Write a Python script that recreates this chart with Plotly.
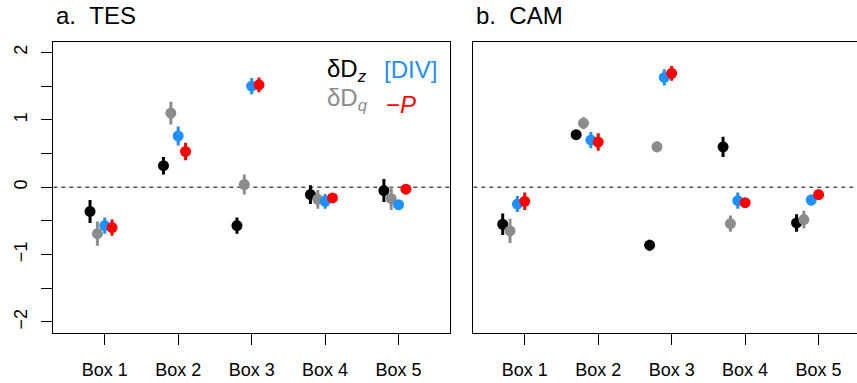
import plotly.graph_objects as go

# ---------------- data ----------------
boxes = ["Box 1", "Box 2", "Box 3", "Box 4", "Box 5"]
box_pos = [1, 2, 3, 4, 5]
y_ticks = [-2, -1, 0, 1, 2]
y_ticktext = ["\u22122", "\u22121", "0", "1", "2"]

# panel a: TES
tes_dDz = [-0.36, 0.32, -0.57, -0.11, -0.05]
tes_dDz_err = [0.17, 0.13, 0.12, 0.14, 0.17]
tes_dDq = [-0.69, 1.10, 0.04, -0.18, -0.17]
tes_dDq_err = [0.18, 0.17, 0.15, 0.14, 0.17]
tes_div = [-0.57, 0.76, 1.50, -0.21, -0.26]
tes_div_err = [0.12, 0.14, 0.12, 0.11, 0.03]
tes_negP = [-0.60, 0.53, 1.52, -0.16, -0.03]
tes_negP_err = [0.12, 0.13, 0.11, 0.05, 0.03]

# panel b: CAM
cam_dDz = [-0.55, 0.78, -0.86, 0.60, -0.53]
cam_dDz_err = [0.16, 0.06, 0.08, 0.15, 0.13]
cam_dDq = [-0.65, 0.95, 0.60, -0.54, -0.48]
cam_dDq_err = [0.18, 0.09, 0.08, 0.12, 0.13]
cam_div = [-0.25, 0.70, 1.63, -0.20, -0.19]
cam_div_err = [0.12, 0.12, 0.12, 0.12, 0.08]
cam_negP = [-0.21, 0.67, 1.69, -0.23, -0.11]
cam_negP_err = [0.13, 0.13, 0.11, 0.07, 0.07]

series_names = ["\u03b4Dz", "\u03b4Dq", "[DIV]", "\u2212P"]
colors = ["#000000", "#8C8C8C", "#1E90FF", "#FF0000"]

# ---------------- layout geometry ----------------
W, H = 857, 383
FONT = "Liberation Sans, Arial, Helvetica, sans-serif"
ax_left_a, ax_right_a = 53.3, 450.0
ax_left_b = 473.3
top_px, bot_px = 41.7, 332.7
xr = [0.3, 5.7]
px_per_unit = (ax_right_a - ax_left_a) / (xr[1] - xr[0])
xr_b = [0.3, 0.3 + (W - ax_left_b) / px_per_unit]
yr = [-2.16, 2.16]

fig = go.Figure()

panels = [
    ("x", "y", [tes_dDz, tes_dDq, tes_div, tes_negP],
     [tes_dDz_err, tes_dDq_err, tes_div_err, tes_negP_err], [-0.2, -0.1, 0.0, 0.1]),
    ("x2", "y2", [cam_dDz, cam_dDq, cam_div, cam_negP],
     [cam_dDz_err, cam_dDq_err, cam_div_err, cam_negP_err], [-0.3, -0.2, -0.1, 0.0]),
]
for xa, ya, vals, errs, offs in panels:
    for name, v, e, off, c in zip(series_names, vals, errs, offs, colors):
        fig.add_trace(go.Scatter(
            x=[p + off for p in box_pos], y=v, mode="markers", name=name,
            xaxis=xa, yaxis=ya, showlegend=False,
            marker=dict(size=11, color=c, line=dict(width=0)),
            error_y=dict(type="data", array=e, visible=True, thickness=3,
                         width=0, color=c),
        ))

# dashed zero lines
fig.add_shape(type="line", xref="x", yref="y", x0=xr[0], x1=xr[1], y0=0, y1=0,
              line=dict(color="black", width=1, dash="4px,4px"), layer="below")
fig.add_shape(type="line", xref="x2", yref="y2", x0=xr_b[0], x1=xr_b[1], y0=0, y1=0,
              line=dict(color="black", width=1, dash="4px,4px"), layer="below")

ydom = [1 - bot_px / H, 1 - top_px / H]
common_x = dict(tickvals=box_pos, ticktext=boxes, ticks="outside", ticklen=11,
                tickwidth=1, tickcolor="black", showline=True, linecolor="black",
                linewidth=1, mirror=True, showgrid=False, zeroline=False,
                tickfont=dict(family=FONT, size=18, color="black"),
                ticklabelstandoff=10)
fig.update_layout(
    width=W, height=H,
    margin=dict(l=0, r=0, t=0, b=0),
    paper_bgcolor="white", plot_bgcolor="white",
    font=dict(family=FONT, color="black"),
    xaxis=dict(domain=[ax_left_a / W, ax_right_a / W], range=xr, **common_x),
    xaxis2=dict(domain=[ax_left_b / W, 1.0], range=xr_b, anchor="y2", **common_x),
    yaxis=dict(domain=ydom, range=yr, tickvals=y_ticks, ticktext=y_ticktext,
               ticks="outside", ticklen=11, tickwidth=1, tickcolor="black",
               minor=dict(tickvals=[-1.5, -0.5, 0.5, 1.5], ticks="outside",
                          ticklen=11, tickwidth=1, tickcolor="black", showgrid=False),
               tickangle=-90, showline=True, linecolor="black", linewidth=1,
               mirror=True, showgrid=False, zeroline=False,
               tickfont=dict(family=FONT, size=18, color="black"),
               ticklabelstandoff=7),
    yaxis2=dict(domain=ydom, range=yr, anchor="x2", showticklabels=False, ticks="",
                showline=True, linecolor="black", linewidth=1, mirror=False,
                showgrid=False, zeroline=False),
)

def px_x(v):
    return v / W

def px_y(v):
    return 1 - v / H

annos = [
    dict(text="a.\u00a0\u00a0TES", x=px_x(54), y=px_y(16), size=24, color="black"),
    dict(text="b.\u00a0\u00a0CAM", x=px_x(473.5), y=px_y(16), size=24, color="black"),
    dict(text="\u03b4D<sub><i>z</i></sub>", x=px_x(325), y=px_y(70), size=24, color=colors[0]),
    dict(text="[DIV]", x=px_x(382), y=px_y(69), size=24, color=colors[2]),
    dict(text="\u03b4D<sub><i>q</i></sub>", x=px_x(325), y=px_y(99), size=24, color=colors[1]),
    dict(text="\u2212<i>P</i>", x=px_x(384), y=px_y(104), size=24, color=colors[3]),
]
for a in annos:
    fig.add_annotation(text=a["text"], x=a["x"], y=a["y"], xref="paper", yref="paper",
                       xanchor="left", yanchor="middle", showarrow=False,
                       font=dict(family=FONT, size=a["size"], color=a["color"]))

fig.write_html("out.html",
               config={"displayModeBar": False},
               post_script="document.body.style.margin='0';"
                           "document.body.style.overflow='hidden';")
